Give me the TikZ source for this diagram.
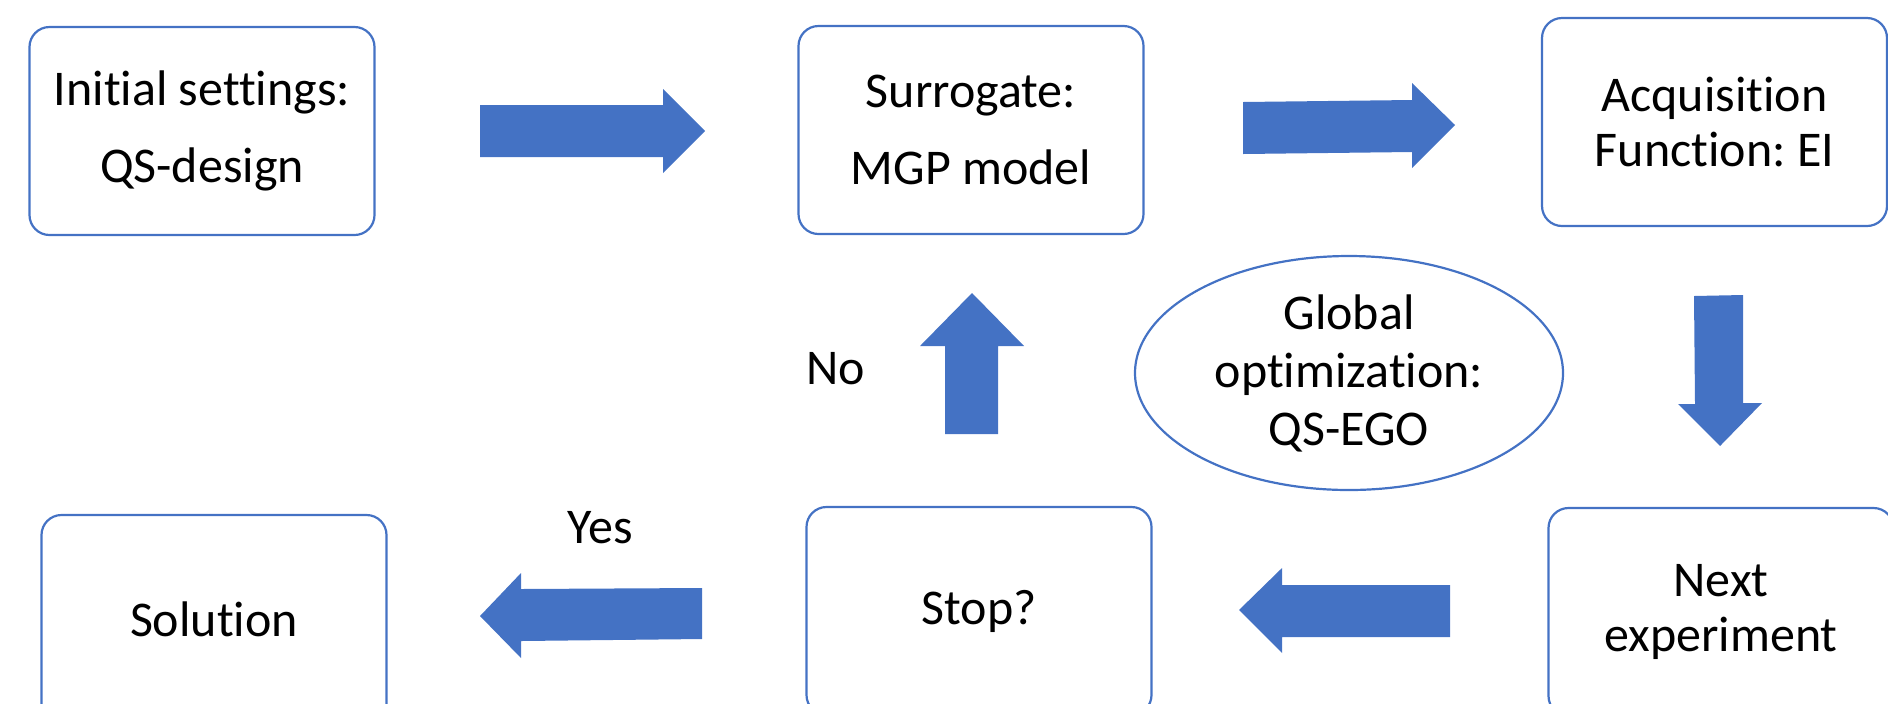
\documentclass[tikz,border=0pt]{standalone}
\usepackage{fontspec}
\setmainfont{Carlito}[Ligatures={NoCommon}]
\frenchspacing
\usetikzlibrary{shapes.geometric}
\definecolor{ppblue}{HTML}{4472C4}
\begin{document}
\begin{tikzpicture}[x=0.5pt,y=-0.5pt,
  box/.style={draw=ppblue, line width=1.1pt, rounded corners=10pt,
    minimum width=172.5pt, minimum height=104pt, align=center, inner sep=0pt},
  oval/.style={draw=ppblue, line width=1.1pt, ellipse,
    minimum width=214pt, minimum height=117pt, align=center, inner sep=0pt},
  widetext/.style={font=\fontsize{25}{38.5}\selectfont},
  tighttext/.style={font=\fontsize{25}{27.5}\selectfont},
  ovaltext/.style={font=\fontsize{25}{29}\selectfont},
  label/.style={font=\fontsize{25}{30}\selectfont, inner sep=0pt},
  blockarrow/.style={fill=ppblue}]
\useasboundingbox (0,0) rectangle (1888,703);
\clip (0,0) rectangle (1888,703);

% boxes
\node[box, widetext] (init) at (202,131) {Initial settings:\\QS-design};
\node[box, widetext] (surr) at (971,130) {Surrogate:\\MGP model};
\node[box, tighttext] (acq) at (1714.5,122) {Acquisition\\Function: EI};
\node[box, tighttext] (next) at (1721,612) {Next\\experiment};
\node[box, widetext] (stop) at (979,611) {Stop?};
\node[box, widetext] (sol) at (214,619) {Solution};
\node[oval, ovaltext] (glob) at (1349,373) {Global\\optimization:\\QS-EGO};

% labels
\node[label] (no) at (836,369) {No};
\node[label] (yes) at (600,528) {Yes};

% block arrows
\fill[blockarrow] (480,105) -- (663,105) -- (663,89) -- (705,131) -- (663,173) -- (663,157) -- (480,157) -- cycle;
\fill[blockarrow] (1243,102) -- (1412,100) -- (1412,83) -- (1455,125) -- (1412,168) -- (1412,152) -- (1243,154) -- cycle;
\fill[blockarrow] (1694,296) -- (1743,295) -- (1743,403) -- (1762,403) -- (1720,446) -- (1678,404) -- (1695,404) -- cycle;
\fill[blockarrow] (1450,585) -- (1282,585) -- (1282,568) -- (1239,610) -- (1282,653) -- (1282,637) -- (1450,637) -- cycle;
\fill[blockarrow] (702,588) -- (521,589) -- (521,573) -- (480,616) -- (521,658) -- (521,641) -- (702,639) -- cycle;
\fill[blockarrow] (945,434) -- (945,346) -- (920,346) -- (972,293) -- (1024,346) -- (998,346) -- (998,434) -- cycle;
\end{tikzpicture}
\end{document}
